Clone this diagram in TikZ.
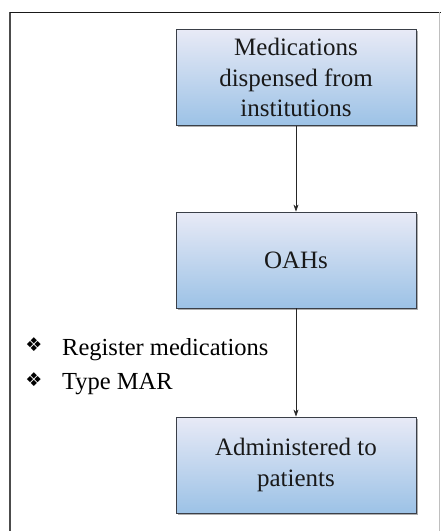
\documentclass[tikz,border=0pt]{standalone}
\usepackage{fontspec}
\setmainfont{Liberation Serif}
\newfontfamily\symfont{DejaVu Sans}
\usetikzlibrary{shadows,arrows.meta}
\definecolor{boxtop}{HTML}{E8EAF6}
\definecolor{boxbot}{HTML}{9CC2E6}
\definecolor{boxline}{HTML}{3A3F48}
\tikzset{
  flowbox/.style={draw=boxline, line width=0.9pt, top color=boxtop, bottom color=boxbot,
    minimum width=240pt, minimum height=96pt, align=center, inner sep=0pt,
    font=\fontsize{25}{30.5}\selectfont, text=black!90,
    drop shadow={shadow xshift=1.5pt, shadow yshift=-1.5pt, opacity=0.45, fill=black!70}},
  flowarrow/.style={-{Stealth[length=7pt,width=5pt]}, line width=0.6pt, black!85},
  bulletitem/.style={anchor=west, font=\fontsize{24.5}{28}\selectfont, inner sep=0pt},
  bulletsym/.style={anchor=center, font=\symfont\fontsize{19}{19}\selectfont, inner sep=0pt},
}
\begin{document}
\begin{tikzpicture}[x=1pt,y=-1pt]
\useasboundingbox (0,0) rectangle (441,531);
\draw[black!70, line width=1.2pt] (10,531) -- (10,12);
\draw[black!90, line width=1pt] (10,12) -- (441,12);
\draw[black!25, line width=0.8pt] (439.5,12) -- (439.5,531);
\node[flowbox] (a) at (296,77.5) {Medications\\dispensed from\\institutions};
\node[flowbox] (b) at (296,260) {OAHs};
\node[flowbox] (c) at (296,465) {Administered to\\patients};
\draw[flowarrow] (a) -- (b);
\draw[flowarrow] (b) -- (c);
\node[bulletsym] (s1) at (34,345) {❖};
\node[bulletitem] (t1) at (62,350) {Register medications};
\node[bulletsym] (s2) at (34,380) {❖};
\node[bulletitem] (t2) at (62,384) {Type MAR};
\end{tikzpicture}
\end{document}
